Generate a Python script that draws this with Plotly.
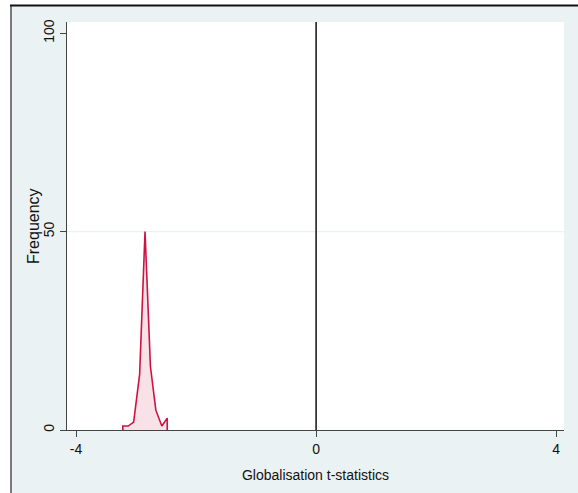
import plotly.graph_objects as go

# Data
t_stats = [-3.22, -3.13, -3.04, -2.94, -2.85, -2.76, -2.67, -2.57, -2.48]
frequency = [1, 1, 2, 14, 50, 16, 5, 1, 3]
x_ticks = [-4, 0, 4]
y_ticks = [0, 50, 100]
x_title = "Globalisation t-statistics"
y_title = "Frequency"

LINE = "#cc1443"
FILL = "#f8e1e7"
BG = "#eaf2f3"
FONT = "Liberation Sans, Arial, sans-serif"

# closed area polygon down to the baseline
xs = [t_stats[0]] + t_stats + [t_stats[-1]]
ys = [0] + frequency + [0]

fig = go.Figure()
fig.add_trace(go.Scatter(
    x=xs, y=ys, mode="lines", fill="toself", fillcolor=FILL,
    line=dict(color=LINE, width=1.6), hoverinfo="skip", showlegend=False))

W, H = 578, 493
L, R, T, B = 67, 14, 22, 63
pw, ph = W - L - R, H - T - B

def px_x(p):
    return (p - L) / pw

def px_y(p):
    return (H - B - p) / ph

shapes = [
    # white strip on top of the graph region
    dict(type="rect", xref="paper", yref="paper", x0=px_x(0), x1=px_x(W),
         y0=px_y(5), y1=px_y(0), fillcolor="white", line=dict(width=0), layer="below"),
    # white strip left of the graph region
    dict(type="rect", xref="paper", yref="paper", x0=px_x(0), x1=px_x(10),
         y0=px_y(H), y1=px_y(0), fillcolor="white", line=dict(width=0), layer="below"),
    # left border
    dict(type="line", xref="paper", yref="paper", x0=px_x(11), x1=px_x(11),
         y0=px_y(H), y1=px_y(5), line=dict(color="#7a7a7a", width=2), layer="above"),
    # top border
    dict(type="line", xref="paper", yref="paper", x0=px_x(10), x1=px_x(W),
         y0=px_y(5.5), y1=px_y(5.5), line=dict(color="#111111", width=2), layer="above"),
    # grid line at 50
    dict(type="line", xref="paper", yref="y", x0=0, x1=1, y0=y_ticks[1], y1=y_ticks[1],
         line=dict(color=BG, width=1.2), layer="below"),
    # reference line at 0
    dict(type="line", xref="x", yref="paper", x0=0, x1=0, y0=0, y1=1,
         line=dict(color="#111111", width=1.5), layer="above"),
]

fig.update_layout(
    width=W, height=H,
    margin=dict(l=L, r=R, t=T, b=B),
    paper_bgcolor=BG, plot_bgcolor="white",
    font=dict(family=FONT, size=14, color="#111111"),
    shapes=shapes,
    annotations=[dict(text=y_title, xref="paper", yref="paper", x=px_x(33), y=0.5,
                      xanchor="center", yanchor="middle", textangle=-90, showarrow=False,
                      font=dict(size=16))],
    xaxis=dict(range=[-4.15, 4.13], tickvals=x_ticks, ticktext=[str(v) for v in x_ticks],
               showgrid=False, zeroline=False, showline=True, linecolor="#444444", linewidth=1.2,
               ticks="outside", ticklen=6, tickcolor="#444444", tickwidth=1.2,
               title=dict(text=x_title, font=dict(size=14), standoff=14),
               tickfont=dict(size=14)),
    yaxis=dict(range=[0, 102.8], tickvals=y_ticks, ticktext=[str(v) for v in y_ticks],
               showgrid=False, zeroline=False, showline=True, linecolor="#444444", linewidth=1.2,
               ticks="outside", ticklen=6, tickcolor="#444444", tickwidth=1.2,
               tickangle=-90, tickfont=dict(size=14)),
)

fig.write_html("out.html", config={"displayModeBar": False},
               post_script="document.body.style.margin='0';")
